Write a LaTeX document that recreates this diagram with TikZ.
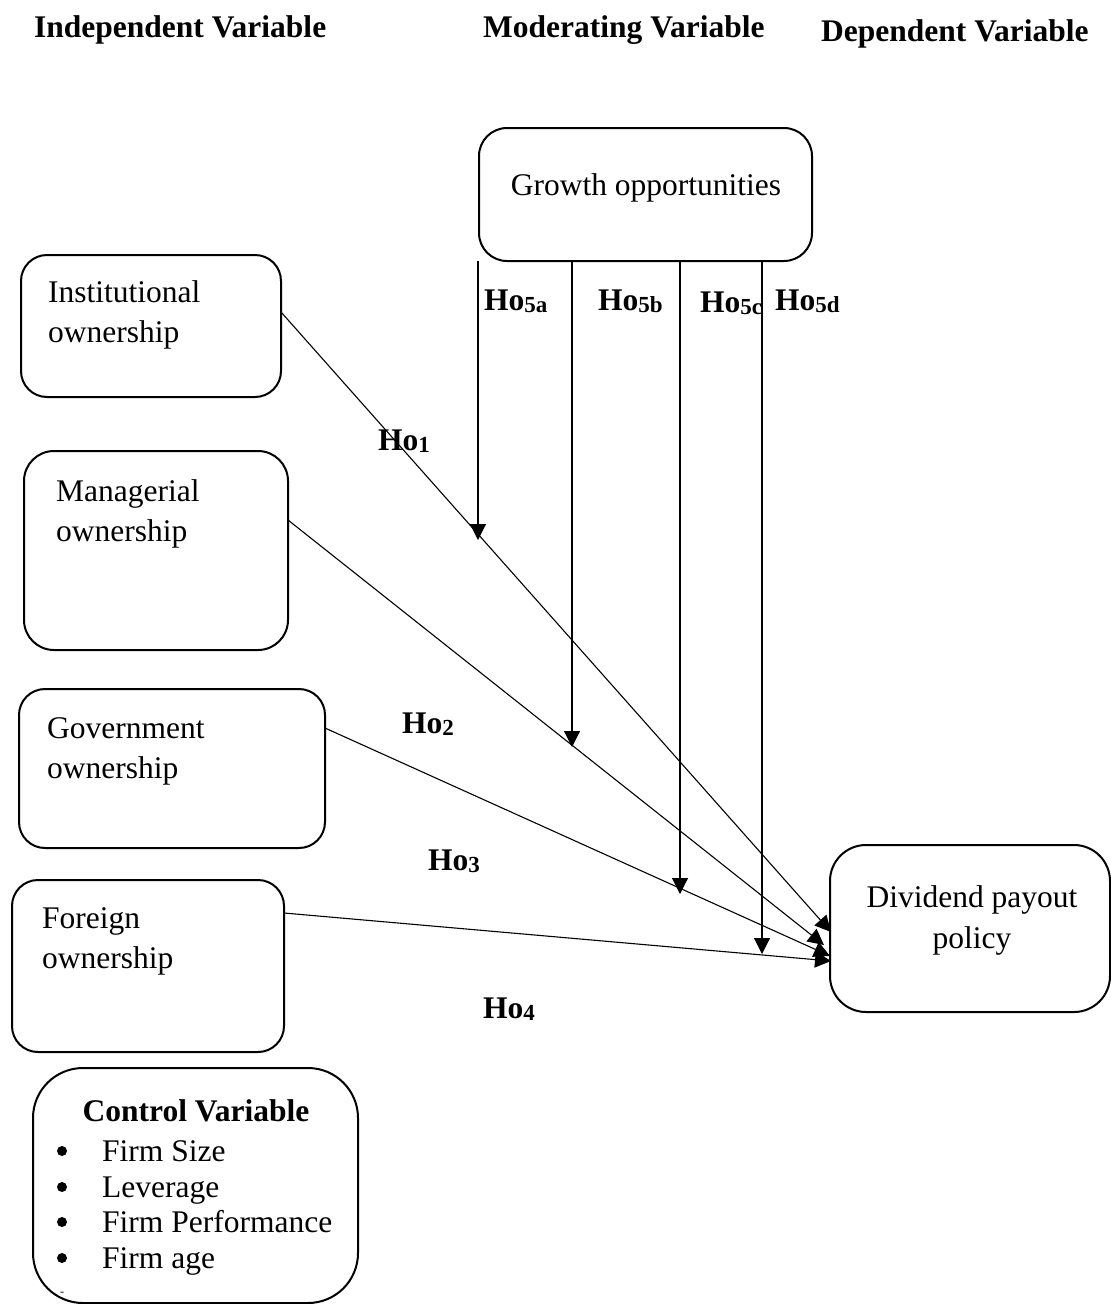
\documentclass[tikz,border=0pt]{standalone}
\usepackage{fontspec}
\setmainfont{Liberation Serif}
\usetikzlibrary{arrows.meta}
\newcommand\hosub[1]{Ho\raisebox{-2pt}{\fontsize{23}{23}\selectfont #1}}
\begin{document}
\begin{tikzpicture}[x=1pt,y=-1pt,
  box/.style={draw, line width=2pt, rounded corners=#1, inner sep=0pt},
  box/.default=26pt,
  txt/.style={font=\fontsize{31.5}{38}\selectfont, inner sep=0pt},
  head/.style={font=\fontsize{31.5}{38}\selectfont\bfseries, inner sep=0pt},
  conn/.style={line width=1.1pt, -{Triangle[length=16pt,width=16pt]}},
  dot/.style={circle, fill, inner sep=0pt, minimum size=10pt},
]
\useasboundingbox (0,0) rectangle (1111,1304);

% headings
\node[head, anchor=base west] (h1) at (34,37) {Independent Variable};
\node[head, anchor=base west] (h2) at (483,37) {Moderating Variable};
\node[head, anchor=base west] (h3) at (821,41) {Dependent Variable};

% boxes
\node[box=28pt, minimum width=333pt, minimum height=133pt] (grow) at (645.5,194.5) {};
\node[txt, anchor=base] (growt) at (646,195) {Growth opportunities};

\node[box=26pt, minimum width=260pt, minimum height=142pt] (inst) at (151,326) {};
\node[txt, anchor=base west] (inst1) at (48,302) {Institutional};
\node[txt, anchor=base west] (inst2) at (48,342) {ownership};

\node[box=30pt, minimum width=264pt, minimum height=199pt] (mana) at (156,550.5) {};
\node[txt, anchor=base west] (mana1) at (56,501) {Managerial};
\node[txt, anchor=base west] (mana2) at (56,541) {ownership};

\node[box=26pt, minimum width=306pt, minimum height=159pt] (gov) at (172,768.5) {};
\node[txt, anchor=base west] (gov1) at (47,738) {Government};
\node[txt, anchor=base west] (gov2) at (47,778) {ownership};

\node[box=26pt, minimum width=272pt, minimum height=172pt] (for) at (148,966) {};
\node[txt, anchor=base west] (for1) at (42,928) {Foreign};
\node[txt, anchor=base west] (for2) at (42,968) {ownership};

\node[box=36pt, minimum width=280pt, minimum height=167pt] (div) at (970,928.5) {};
\node[txt, anchor=base] (div1) at (972,907) {Dividend payout};
\node[txt, anchor=base] (div2) at (972,948) {policy};

\node[box=50pt, minimum width=325pt, minimum height=235pt] (ctrl) at (195.5,1185.5) {};
\node[head, anchor=base] (ctrlt) at (196,1121) {Control Variable};
\foreach \i/\t/\y in {1/Firm Size/1161, 2/Leverage/1197, 3/Firm Performance/1232, 4/Firm age/1268}{
  \node[dot] (b\i) at (62,\y-10) {};
  \node[txt, anchor=base west] (c\i) at (102,\y) {\t};
}
\node[inner sep=0pt, font=\fontsize{12}{12}\selectfont] (dash) at (62,1294) {-};

% connector coordinates
\coordinate (s1) at (281,312);  \coordinate (e1) at (831,932);
\coordinate (s2) at (288,520);  \coordinate (e2) at (824,945);
\coordinate (s3) at (325,728);  \coordinate (e3) at (830,956);
\coordinate (s4) at (284,913);  \coordinate (e4) at (831,961);
\coordinate (g1) at (478,261);  \coordinate (t1) at (478,540);
\coordinate (g2) at (572,261);  \coordinate (t2) at (572,747);
\coordinate (g3) at (680,261);  \coordinate (t3) at (680,894);
\coordinate (g4) at (762,261);  \coordinate (t4) at (762,954);

\draw[conn] (s1) -- (e1);
\draw[conn] (s2) -- (e2);
\draw[conn] (s3) -- (e3);
\draw[conn] (s4) -- (e4);
\draw[conn] (g1) -- (t1);
\draw[conn] (g2) -- (t2);
\draw[conn] (g3) -- (t3);
\draw[conn] (g4) -- (t4);

% labels
\node[head, anchor=base west] (l5a) at (484,310) {\hosub{5a}};
\node[head, anchor=base west] (l5b) at (598,310) {\hosub{5b}};
\node[head, anchor=base west] (l5c) at (700,312) {\hosub{5c}};
\node[head, anchor=base west] (l5d) at (775,310) {\hosub{5d}};
\node[head, anchor=base west] (l1) at (378,450) {\hosub{1}};
\node[head, anchor=base west] (l2) at (402,733) {\hosub{2}};
\node[head, anchor=base west] (l3) at (428,870) {\hosub{3}};
\node[head, anchor=base west] (l4) at (483,1018) {\hosub{4}};
\end{tikzpicture}
\end{document}
